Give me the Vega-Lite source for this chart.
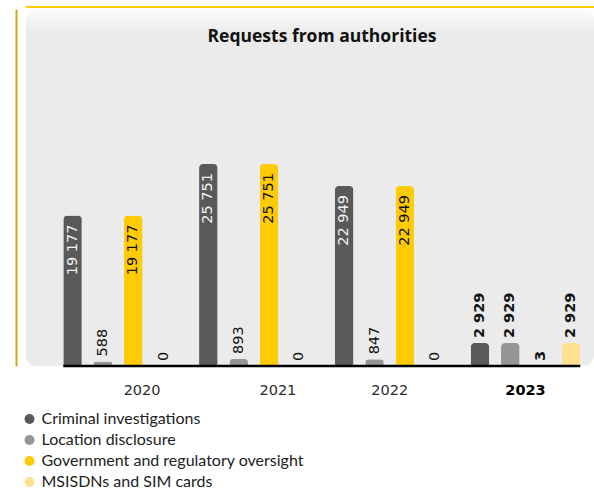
{
  "$schema": "https://vega.github.io/schema/vega-lite/v6.json",
  "width": 568,
  "height": 357,
  "autosize": {"type": "none"},
  "padding": {"left": 26, "top": 9, "right": 0, "bottom": 124},
  "background": "#ffffff",
  "config": {
    "locale": {"number": {"decimal": ".", "thousands": " ", "grouping": [3], "currency": ["", ""]}},
    "view": {
      "stroke": null,
      "cornerRadius": 10,
      "fill": {
        "gradient": "linear", "x1": 0, "y1": 0, "x2": 0, "y2": 1,
        "stops": [
          {"offset": 0, "color": "#fbfbfb"},
          {"offset": 0.07, "color": "#ebebeb"},
          {"offset": 1, "color": "#ebebeb"}
        ]
      }
    }
  },
  "title": {
    "text": "Requests from authorities",
    "font": "Open Sans",
    "fontSize": 17.5,
    "fontWeight": "bold",
    "color": "#111111",
    "anchor": "middle",
    "frame": "group",
    "baseline": "alphabetic",
    "offset": -53,
    "dx": 12
  },
  "data": {
    "values": [
      {"year": "2020", "category": "Criminal investigations", "value": 19177},
      {"year": "2020", "category": "Location disclosure", "value": 588},
      {"year": "2020", "category": "Government and regulatory oversight", "value": 19177},
      {"year": "2020", "category": "MSISDNs and SIM cards", "value": 0},
      {"year": "2021", "category": "Criminal investigations", "value": 25751},
      {"year": "2021", "category": "Location disclosure", "value": 893},
      {"year": "2021", "category": "Government and regulatory oversight", "value": 25751},
      {"year": "2021", "category": "MSISDNs and SIM cards", "value": 0},
      {"year": "2022", "category": "Criminal investigations", "value": 22949},
      {"year": "2022", "category": "Location disclosure", "value": 847},
      {"year": "2022", "category": "Government and regulatory oversight", "value": 22949},
      {"year": "2022", "category": "MSISDNs and SIM cards", "value": 0},
      {"year": "2023", "category": "Criminal investigations", "value": 2929},
      {"year": "2023", "category": "Location disclosure", "value": 2929},
      {"year": "2023", "category": "Government and regulatory oversight", "value": 3},
      {"year": "2023", "category": "MSISDNs and SIM cards", "value": 2929}
    ]
  },
  "layer": [
    {
      "data": {"values": [{}]},
      "mark": {"type": "rule", "color": "#ffcb05", "strokeWidth": 2, "yOffset": -2},
      "encoding": {"y": {"datum": 45510, "type": "quantitative"}}
    },
    {
      "mark": {"type": "bar", "cornerRadiusTopLeft": 4, "cornerRadiusTopRight": 4},
      "encoding": {
        "x": {
          "field": "year", "type": "nominal",
          "scale": {"paddingInner": 0.193, "paddingOuter": 0.1878, "align": 0.731},
          "axis": {
            "title": null, "domain": false, "ticks": false, "labelAngle": 0,
            "labelFont": "DejaVu Sans", "labelFontSize": 14.5,
            "labelPadding": 17,
            "labelColor": {"condition": {"test": "datum.value == '2023'", "value": "#000000"}, "value": "#2b2b2b"},
            "labelFontWeight": {"condition": {"test": "datum.value == '2023'", "value": "bold"}, "value": "normal"},
            "labelOffset": {"condition": {"test": "datum.value == '2020' || datum.value == '2021'", "value": 24}, "value": 0}
          }
        },
        "xOffset": {
          "field": "category", "type": "nominal",
          "sort": ["Criminal investigations", "Location disclosure", "Government and regulatory oversight", "MSISDNs and SIM cards"],
          "scale": {"paddingInner": 0.39, "paddingOuter": 0}
        },
        "y": {
          "field": "value", "type": "quantitative",
          "scale": {"domain": [0, 45510], "nice": false},
          "axis": {
            "title": null, "labels": false, "ticks": false, "grid": false,
            "domain": true, "domainColor": "#d2a51c", "domainWidth": 2, "offset": 10
          }
        },
        "color": {
          "field": "category", "type": "nominal",
          "scale": {
            "domain": ["Criminal investigations", "Location disclosure", "Government and regulatory oversight", "MSISDNs and SIM cards"],
            "range": ["#59595b", "#939598", "#ffcb05", "#ffe08f"]
          },
          "legend": {
            "orient": "none", "legendX": -4.5, "legendY": 402,
            "direction": "vertical", "title": null,
            "symbolType": "circle", "symbolSize": 100, "symbolStrokeWidth": 0,
            "labelFont": "Lato", "labelFontSize": 16, "labelColor": "#222222", "labelLimit": 0,
            "rowPadding": 5, "labelOffset": 4, "padding": 0
          }
        }
      }
    },
    {
      "transform": [{"filter": "datum.value > 10000"}],
      "mark": {"type": "text", "angle": 270, "align": "right", "baseline": "middle", "dx": -9, "font": "DejaVu Sans", "fontSize": 14.5},
      "encoding": {
        "x": {"field": "year", "type": "nominal"},
        "xOffset": {"field": "category", "type": "nominal", "sort": ["Criminal investigations", "Location disclosure", "Government and regulatory oversight", "MSISDNs and SIM cards"]},
        "y": {"field": "value", "type": "quantitative"},
        "text": {"field": "value", "type": "quantitative", "format": ",d"},
        "color": {"condition": {"test": "datum.category == 'Criminal investigations'", "value": "#f2f2f2"}, "value": "#111111"}
      }
    },
    {
      "transform": [{"filter": "datum.value <= 10000 && datum.year != '2023'"}],
      "mark": {"type": "text", "angle": 270, "align": "left", "baseline": "middle", "dx": 5, "font": "DejaVu Sans", "fontSize": 14.5, "color": "#111111"},
      "encoding": {
        "x": {"field": "year", "type": "nominal"},
        "xOffset": {"field": "category", "type": "nominal", "sort": ["Criminal investigations", "Location disclosure", "Government and regulatory oversight", "MSISDNs and SIM cards"]},
        "y": {"field": "value", "type": "quantitative"},
        "text": {"field": "value", "type": "quantitative", "format": ",d"}
      }
    },
    {
      "transform": [{"filter": "datum.value <= 10000 && datum.year == '2023'"}],
      "mark": {"type": "text", "angle": 270, "align": "left", "baseline": "middle", "dx": 5, "font": "DejaVu Sans", "fontSize": 14.5, "fontWeight": "bold", "color": "#111111"},
      "encoding": {
        "x": {"field": "year", "type": "nominal"},
        "xOffset": {"field": "category", "type": "nominal", "sort": ["Criminal investigations", "Location disclosure", "Government and regulatory oversight", "MSISDNs and SIM cards"]},
        "y": {"field": "value", "type": "quantitative"},
        "text": {"field": "value", "type": "quantitative", "format": ",d"}
      }
    },
    {
      "data": {"values": [{}]},
      "mark": {"type": "rule", "color": "#000000", "strokeWidth": 2.5},
      "encoding": {
        "x": {"datum": "2020", "type": "nominal", "bandPosition": 0},
        "x2": {"datum": "2023", "bandPosition": 1},
        "y": {"datum": 0, "type": "quantitative"}
      }
    }
  ]
}
